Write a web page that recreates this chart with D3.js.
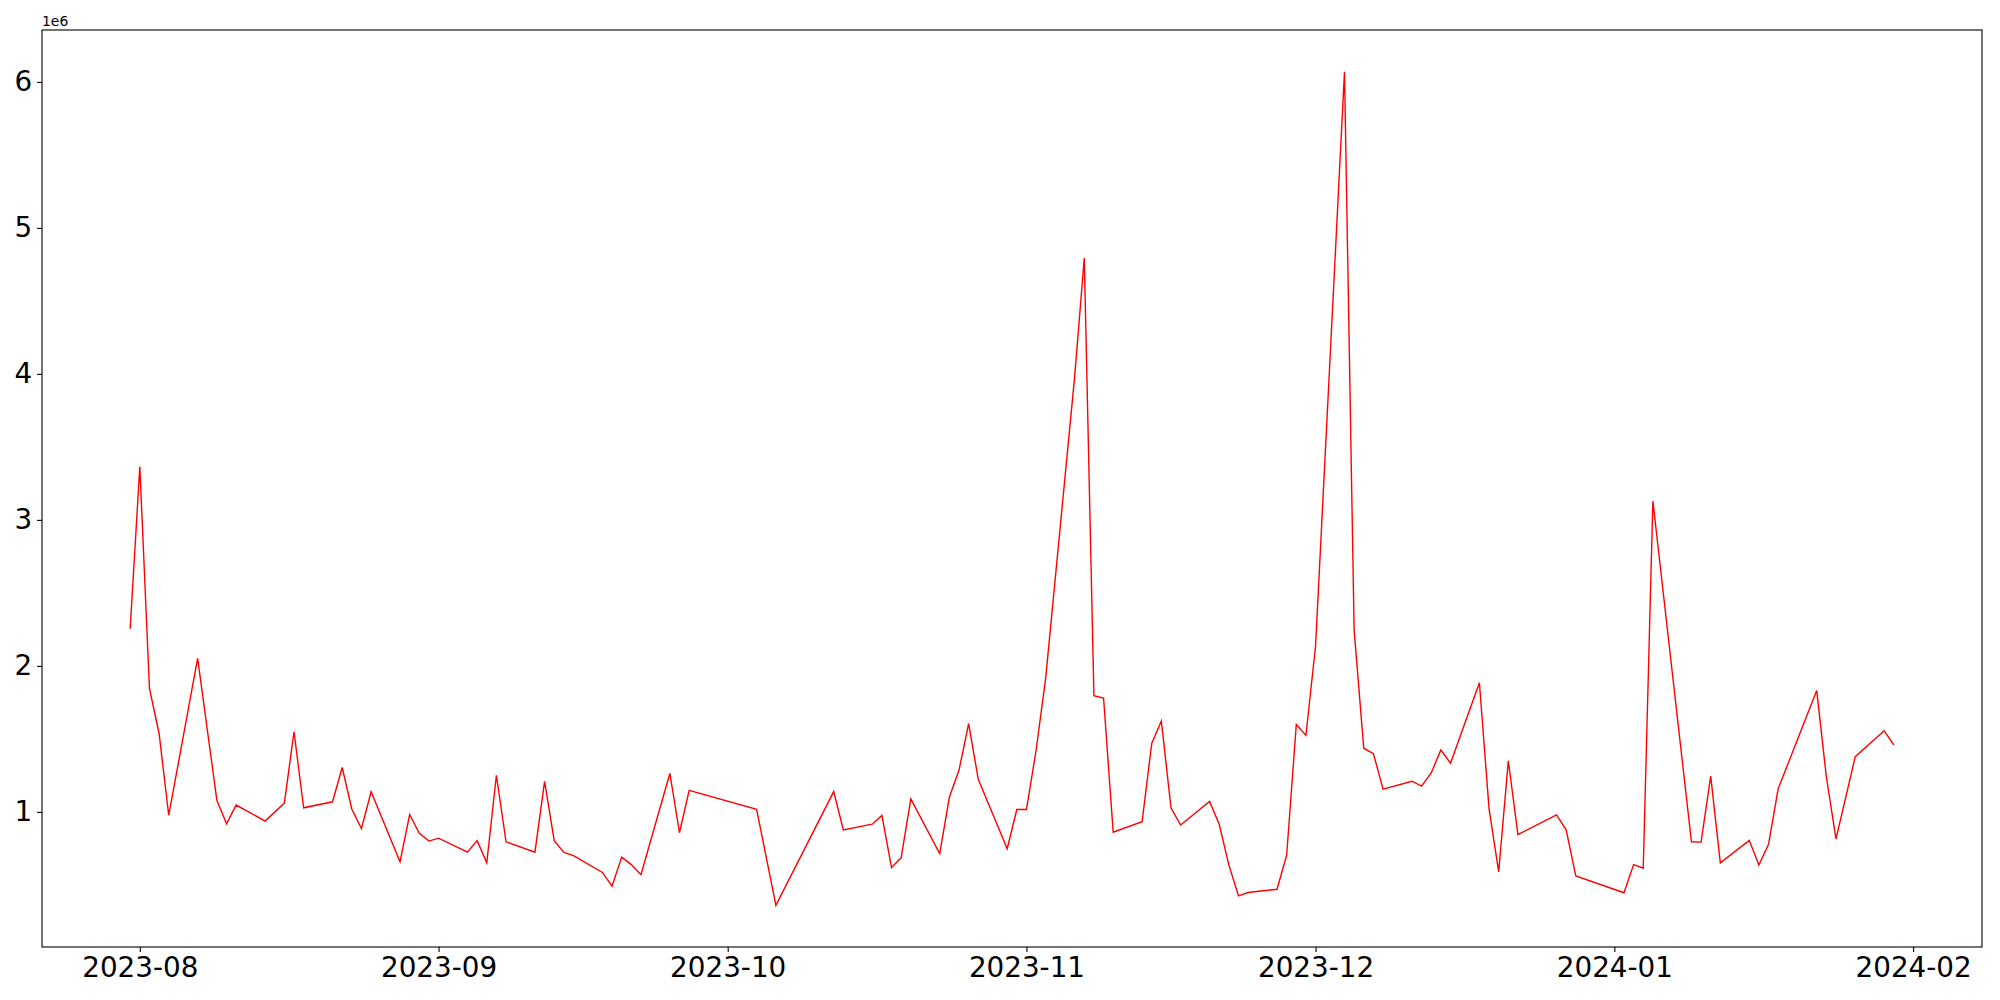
<!DOCTYPE html>
<html>
<head>
<meta charset="utf-8">
<script src="https://cdn.jsdelivr.net/npm/d3@7"></script>
<style>
  body { margin: 0; background: #fff; }
  svg { display: block; }
  .tick text { font-family: "DejaVu Sans", sans-serif; font-size: 27.8px; fill: #000; }
  .tick line { stroke: #000; stroke-width: 1.1; }
</style>
</head>
<body>
<div id="chart"></div>
<script>
// daily values, scaled by 1e6 (offset label drawn top-left)
var dates = [
  "2023-07-31","2023-08-01","2023-08-02","2023-08-03","2023-08-04",
  "2023-08-07","2023-08-09","2023-08-10","2023-08-11",
  "2023-08-14","2023-08-16","2023-08-17","2023-08-18",
  "2023-08-21","2023-08-22","2023-08-23","2023-08-24","2023-08-25",
  "2023-08-28","2023-08-29","2023-08-30","2023-08-31","2023-09-01",
  "2023-09-04","2023-09-05","2023-09-06","2023-09-07","2023-09-08",
  "2023-09-11","2023-09-12","2023-09-13","2023-09-14","2023-09-15",
  "2023-09-18","2023-09-19","2023-09-20","2023-09-21","2023-09-22",
  "2023-09-25","2023-09-26","2023-09-27",
  "2023-10-04","2023-10-06",
  "2023-10-12","2023-10-13",
  "2023-10-16","2023-10-17","2023-10-18","2023-10-19","2023-10-20",
  "2023-10-23","2023-10-24","2023-10-25","2023-10-26","2023-10-27",
  "2023-10-30","2023-10-31","2023-11-01","2023-11-02","2023-11-03",
  "2023-11-06","2023-11-07","2023-11-08","2023-11-09","2023-11-10",
  "2023-11-13","2023-11-14","2023-11-15","2023-11-16","2023-11-17",
  "2023-11-20","2023-11-21","2023-11-22","2023-11-23","2023-11-24",
  "2023-11-27","2023-11-28","2023-11-29","2023-11-30","2023-12-01",
  "2023-12-04","2023-12-05","2023-12-06","2023-12-07","2023-12-08",
  "2023-12-11","2023-12-12","2023-12-13","2023-12-14","2023-12-15",
  "2023-12-18","2023-12-19","2023-12-20","2023-12-21","2023-12-22",
  "2023-12-26","2023-12-27","2023-12-28",
  "2024-01-02","2024-01-03","2024-01-04","2024-01-05",
  "2024-01-09","2024-01-10","2024-01-11","2024-01-12",
  "2024-01-15","2024-01-16","2024-01-17","2024-01-18",
  "2024-01-22","2024-01-23","2024-01-24","2024-01-26",
  "2024-01-29","2024-01-30"
];

var values = [
  2.254, 3.365, 1.845, 1.537, 0.977,
  2.051, 1.077, 0.918, 1.047,
  0.937, 1.060, 1.549, 1.028,
  1.069, 1.304, 1.018, 0.886, 1.138,
  0.658, 0.982, 0.854, 0.800, 0.820,
  0.724, 0.803, 0.651, 1.251, 0.795,
  0.724, 1.209, 0.803, 0.722, 0.700,
  0.585, 0.491, 0.690, 0.639, 0.570,
  1.263, 0.857, 1.148,
  1.018, 0.360,
  1.139, 0.876,
  0.916, 0.976, 0.619, 0.686, 1.089,
  0.714, 1.100, 1.285, 1.604, 1.223,
  0.748, 1.016, 1.016, 1.422, 1.920,
  3.980, 4.794, 1.796, 1.780, 0.861,
  0.933, 1.469, 1.622, 1.026, 0.910,
  1.072, 0.915, 0.637, 0.425, 0.448,
  0.470, 0.703, 1.599, 1.524, 2.138,
  6.070, 2.245, 1.436, 1.399, 1.156,
  1.210, 1.177, 1.267, 1.424, 1.333,
  1.884, 1.021, 0.589, 1.350, 0.844,
  0.980, 0.877, 0.561,
  0.446, 0.639, 0.614, 3.129,
  0.795, 0.793, 1.245, 0.651,
  0.805, 0.636, 0.778, 1.158,
  1.831, 1.239, 0.815, 1.378,
  1.556, 1.458
];

var monthTicks = ["2023-08-01","2023-09-01","2023-10-01","2023-11-01","2023-12-01","2024-01-01","2024-02-01"];
var yTicks = [1, 2, 3, 4, 5, 6];

var width = 2000, height = 1000;
var plot = { left: 42, right: 1982, top: 30, bottom: 947 };

var parse = d3.utcParse("%Y-%m-%d");
var data = dates.map(function(d, i) { return { date: parse(d), value: values[i] }; });

// matplotlib style 5% margins
var xExt = d3.extent(data, function(d) { return +d.date; });
var xPad = (xExt[1] - xExt[0]) * 0.05;
var yExt = d3.extent(data, function(d) { return d.value; });
var yPad = (yExt[1] - yExt[0]) * 0.05;

var x = d3.scaleUtc()
  .domain([new Date(xExt[0] - xPad), new Date(xExt[1] + xPad)])
  .range([plot.left, plot.right]);

var y = d3.scaleLinear()
  .domain([yExt[0] - yPad, yExt[1] + yPad])
  .range([plot.bottom, plot.top]);

var svg = d3.select("#chart").append("svg")
  .attr("width", width)
  .attr("height", height);

svg.append("rect")
  .attr("width", width)
  .attr("height", height)
  .attr("fill", "#fff");

var line = d3.line()
  .x(function(d) { return x(d.date); })
  .y(function(d) { return y(d.value); });

svg.append("path")
  .datum(data)
  .attr("d", line)
  .attr("fill", "none")
  .attr("stroke", "#ff0000")
  .attr("stroke-width", 1.4)
  .attr("stroke-linejoin", "miter");

var xAxis = svg.append("g")
  .attr("transform", "translate(0," + plot.bottom + ")")
  .call(d3.axisBottom(x)
    .tickValues(monthTicks.map(parse))
    .tickFormat(d3.utcFormat("%Y-%m"))
    .tickSize(4.9)
    .tickPadding(4.9));
xAxis.select(".domain").remove();

var yAxis = svg.append("g")
  .attr("transform", "translate(" + plot.left + ",0)")
  .call(d3.axisLeft(y)
    .tickValues(yTicks)
    .tickFormat(d3.format("d"))
    .tickSize(4.9)
    .tickPadding(4.9));
yAxis.select(".domain").remove();

// axes frame
svg.append("rect")
  .attr("x", plot.left)
  .attr("y", plot.top)
  .attr("width", plot.right - plot.left)
  .attr("height", plot.bottom - plot.top)
  .attr("fill", "none")
  .attr("stroke", "#000")
  .attr("stroke-width", 1.1);

svg.append("text")
  .attr("x", plot.left)
  .attr("y", plot.top - 4)
  .attr("font-family", "DejaVu Sans, sans-serif")
  .attr("font-size", 13.9)
  .text("1e6");
</script>
</body>
</html>
